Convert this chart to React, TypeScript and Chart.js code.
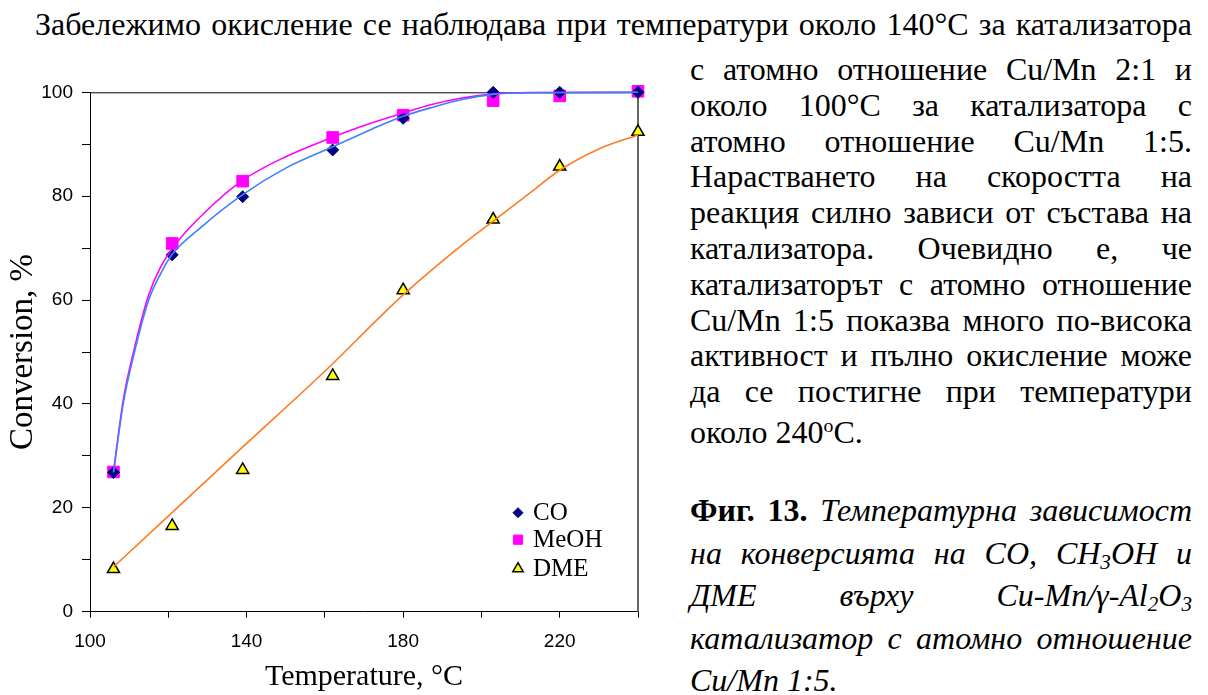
import React, { useEffect, useRef } from 'react';
import { Chart, registerables } from 'chart.js';
import { drawPoint } from 'chart.js/helpers';

Chart.register(...registerables);

// Measured conversion, %, at each reactor temperature, °C
const temperatures = [106, 121, 139, 162, 180, 203, 220, 240];
const coConversion = [26.8, 68.7, 79.9, 88.9, 95.0, 100, 100, 100];
const meohConversion = [26.9, 70.9, 82.9, 91.3, 95.6, 98.4, 99.3, 100.2];
const dmeConversion = [8.2, 16.5, 27.3, 45.4, 61.9, 75.5, 85.7, 92.4];

// Fitted trend curves
const coFitT = [106, 108.5, 111.4, 115, 118, 121, 128.5, 139, 150, 162, 172, 180, 187, 195, 203, 212, 240];
const coFitY = [26.8, 40.1, 50.1, 60.0, 65.0, 68.8, 74.1, 80.3, 85.4, 89.5, 92.9, 95.4, 97.0, 98.6, 99.6, 99.9, 100];
const meohFitT = [106, 108.5, 111.4, 115, 118, 122, 129.5, 138.7, 150, 161.8, 170, 180, 187, 195, 203, 212, 240];
const meohFitY = [26.9, 40.8, 50.9, 61.0, 66.3, 70.9, 77.0, 82.9, 87.6, 91.3, 93.6, 96.0, 97.6, 98.9, 99.7, 99.95, 100];
const dmeFitT = [106, 120, 140, 160, 180, 195, 203, 212, 220, 230, 240];
const dmeFitY = [8.6, 18.4, 32.4, 46.3, 61.0, 70.6, 75.2, 80.4, 85.0, 89.1, 91.8];

// Axis tick labels
const xTickLabels = [100, 140, 180, 220];
const yTickLabels = [0, 20, 40, 60, 80, 100];

const seriesNames = ['CO', 'MeOH', 'DME'];

const serif = '"Liberation Serif", "Times New Roman", serif';
const sans = '"Liberation Sans", Arial, sans-serif';

const pairs = (xs: number[], ys: number[]) => xs.map((x, i) => ({ x, y: ys[i] }));

const frameAndKey = {
  id: 'frameAndKey',
  beforeDatasetsDraw(chart: any) {
    const { ctx, chartArea } = chart;
    ctx.save();
    ctx.strokeStyle = '#000';
    ctx.lineWidth = 1;
    ctx.beginPath();
    ctx.moveTo(chartArea.left, chartArea.top + 0.5);
    ctx.lineTo(chartArea.right, chartArea.top + 0.5);
    ctx.stroke();
    ctx.strokeStyle = '#666';
    ctx.lineWidth = 2;
    ctx.beginPath();
    ctx.moveTo(chartArea.right, chartArea.top);
    ctx.lineTo(chartArea.right, chartArea.bottom);
    ctx.stroke();
    ctx.restore();
  },
  afterDraw(chart: any) {
    const { ctx, chartArea } = chart;
    const markerX = chartArea.right - 120;
    const textX = chartArea.right - 105;
    const rowY = [chartArea.bottom - 99, chartArea.bottom - 72, chartArea.bottom - 43];
    const radii = [5, 6.5, 6];
    ctx.save();
    seriesNames.forEach((name, i) => {
      const ds = chart.data.datasets[i];
      ctx.fillStyle = ds.backgroundColor;
      ctx.strokeStyle = ds.borderColor;
      ctx.lineWidth = ds.borderWidth;
      drawPoint(ctx, { pointStyle: ds.pointStyle, radius: radii[i], rotation: 0, borderWidth: ds.borderWidth }, markerX, rowY[i]);
      ctx.fillStyle = '#000';
      ctx.font = `25px ${serif}`;
      ctx.textBaseline = 'middle';
      ctx.textAlign = 'left';
      ctx.fillText(name, textX, rowY[i] + 1);
    });
    ctx.restore();
  },
};

function ConversionChart() {
  const ref = useRef<HTMLCanvasElement>(null);
  useEffect(() => {
    if (!ref.current) return;
    const chart = new Chart(ref.current, {
      type: 'scatter',
      data: {
        datasets: [
          {
            label: seriesNames[0],
            data: pairs(temperatures, coConversion),
            pointStyle: 'rectRot',
            pointRadius: 6,
            backgroundColor: '#000080',
            borderColor: '#000080',
            borderWidth: 1,
            showLine: false,
            clip: false,
            order: 2,
          },
          {
            label: seriesNames[1],
            data: pairs(temperatures, meohConversion),
            pointStyle: 'rect',
            pointRadius: 8.2,
            backgroundColor: '#FF00FF',
            borderColor: '#FF00FF',
            borderWidth: 1,
            showLine: false,
            clip: false,
            order: 3,
          },
          {
            label: seriesNames[2],
            data: pairs(temperatures, dmeConversion),
            pointStyle: 'triangle',
            pointRadius: 7,
            backgroundColor: '#FFFF00',
            borderColor: '#000000',
            borderWidth: 1.5,
            showLine: false,
            clip: false,
            order: 4,
          },
          {
            label: 'CO fit',
            data: pairs(coFitT, coFitY),
            showLine: true,
            pointRadius: 0,
            borderColor: '#3F7FFF',
            borderWidth: 1.6,
            cubicInterpolationMode: 'monotone',
            clip: false,
            order: 0,
          },
          {
            label: 'MeOH fit',
            data: pairs(meohFitT, meohFitY),
            showLine: true,
            pointRadius: 0,
            borderColor: '#FF00FF',
            borderWidth: 1.6,
            cubicInterpolationMode: 'monotone',
            clip: false,
            order: 1,
          },
          {
            label: 'DME fit',
            data: pairs(dmeFitT, dmeFitY),
            showLine: true,
            pointRadius: 0,
            borderColor: '#FF7A21',
            borderWidth: 1.6,
            cubicInterpolationMode: 'monotone',
            clip: false,
            order: 1,
          },
        ],
      },
      options: {
        animation: false,
        responsive: false,
        devicePixelRatio: 1,
        layout: { padding: { top: 42.3, right: 22, left: 0, bottom: 0 } },
        plugins: {
          legend: { display: false },
          tooltip: { enabled: false },
        },
        scales: {
          x: {
            type: 'linear',
            min: 100,
            max: 240,
            afterFit: (s: any) => { s.height = 83.3; },
            border: { display: true, color: '#000', width: 1 },
            grid: { display: true, drawOnChartArea: false, drawTicks: true, tickLength: 6, color: '#000', lineWidth: 1 },
            ticks: {
              stepSize: 20,
              autoSkip: false,
              maxRotation: 0,
              padding: 13,
              color: '#000',
              font: { family: sans, size: 19 },
              callback: (v: any) => (xTickLabels.includes(Number(v)) ? String(v) : ''),
            },
            title: {
              display: true,
              text: 'Temperature, °C',
              color: '#000',
              font: { family: serif, size: 30 },
              padding: { top: 0, bottom: 0 },
            },
          },
          y: {
            type: 'linear',
            min: 0,
            max: 100,
            afterFit: (s: any) => { s.width = 90; },
            border: { display: true, color: '#000', width: 1 },
            grid: { display: true, drawOnChartArea: false, drawTicks: true, tickLength: 8, color: '#000', lineWidth: 1 },
            ticks: {
              stepSize: 10,
              padding: 9,
              color: '#000',
              font: { family: sans, size: 19 },
              callback: (v: any) => (yTickLabels.includes(Number(v)) ? String(v) : ''),
            },
            title: {
              display: true,
              text: 'Conversion, %',
              color: '#000',
              font: { family: serif, size: 33 },
              padding: { top: 4, bottom: 0 },
            },
          },
        },
      },
      plugins: [frameAndKey],
    } as any);
    return () => chart.destroy();
  }, []);
  return (
    <canvas
      ref={ref}
      width={660}
      height={645}
      style={{ position: 'absolute', left: 0, top: 50, width: 660, height: 645, display: 'block' }}
    />
  );
}

type Word = React.ReactNode;

function JLine({ top, left, width, words, justify = true, style }: { top: number; left: number; width: number; words: Word[]; justify?: boolean; style?: React.CSSProperties }) {
  return (
    <div
      style={{
        position: 'absolute',
        top,
        left,
        width,
        display: 'flex',
        justifyContent: justify ? 'space-between' : 'flex-start',
        gap: justify ? 0 : '0.25em',
        whiteSpace: 'nowrap',
        fontFamily: serif,
        fontSize: 32,
        lineHeight: '37px',
        color: '#000',
        ...style,
      }}
    >
      {words.map((w, i) => (
        <span key={i}>{w}</span>
      ))}
    </div>
  );
}

const sub = (t: string) => (
  <sub style={{ fontSize: '0.66em', verticalAlign: '-0.22em', lineHeight: 0 }}>{t}</sub>
);

const bodyLines: Word[][] = [
  ['с', 'атомно', 'отношение', 'Cu/Mn', '2:1', 'и'],
  ['около', '100°C', 'за', 'катализатора', 'с'],
  ['атомно', 'отношение', 'Cu/Mn', '1:5.'],
  ['Нарастването', 'на', 'скоростта', 'на'],
  ['реакция', 'силно', 'зависи', 'от', 'състава', 'на'],
  ['катализатора.', 'Очевидно', 'е,', 'че'],
  ['катализаторът', 'с', 'атомно', 'отношение'],
  ['Cu/Mn', '1:5', 'показва', 'много', 'по-висока'],
  ['активност', 'и', 'пълно', 'окисление', 'може'],
  ['да', 'се', 'постигне', 'при', 'температури'],
];

const captionLines: Word[][] = [
  [<b>Фиг.</b>, <b>13.</b>, <i>Температурна</i>, <i>зависимост</i>],
  [<i>на</i>, <i>конверсията</i>, <i>на</i>, <i>CO,</i>, <i>CH{sub('3')}OH</i>, <i>и</i>],
  [<i>ДМЕ</i>, <i>върху</i>, <i>Cu-Mn/γ-Al{sub('2')}O{sub('3')}</i>],
  [<i>катализатор</i>, <i>с</i>, <i>атомно</i>, <i>отношение</i>],
];

export default function App() {
  const colLeft = 690;
  const colWidth = 502;
  const bodyTop = 51;
  const bodyStep = 35.8;
  const capTop = 492;
  const capStep = 42.5;
  return (
    <div style={{ position: 'absolute', left: 0, top: 0, width: 1208, height: 695, background: '#fff', overflow: 'hidden' }}>
      <JLine
        top={6}
        left={35}
        width={1157}
        words={['Забележимо', 'окисление', 'се', 'наблюдава', 'при', 'температури', 'около', '140°C', 'за', 'катализатора']}
      />
      {bodyLines.map((w, i) => (
        <JLine key={i} top={bodyTop + i * bodyStep} left={colLeft} width={colWidth} words={w} />
      ))}
      <JLine
        top={bodyTop + 10 * bodyStep + 5}
        left={colLeft}
        width={colWidth}
        justify={false}
        words={[<>около 240<sup style={{ fontSize: '0.62em', verticalAlign: '0.55em', lineHeight: 0 }}>o</sup>C.</>]}
      />
      {captionLines.map((w, i) => (
        <JLine key={'c' + i} top={capTop + i * capStep} left={colLeft} width={colWidth} words={w} />
      ))}
      <JLine top={capTop + 4 * capStep} left={colLeft} width={colWidth} justify={false} words={[<i>Cu/Mn 1:5.</i>]} />
      <ConversionChart />
    </div>
  );
}
